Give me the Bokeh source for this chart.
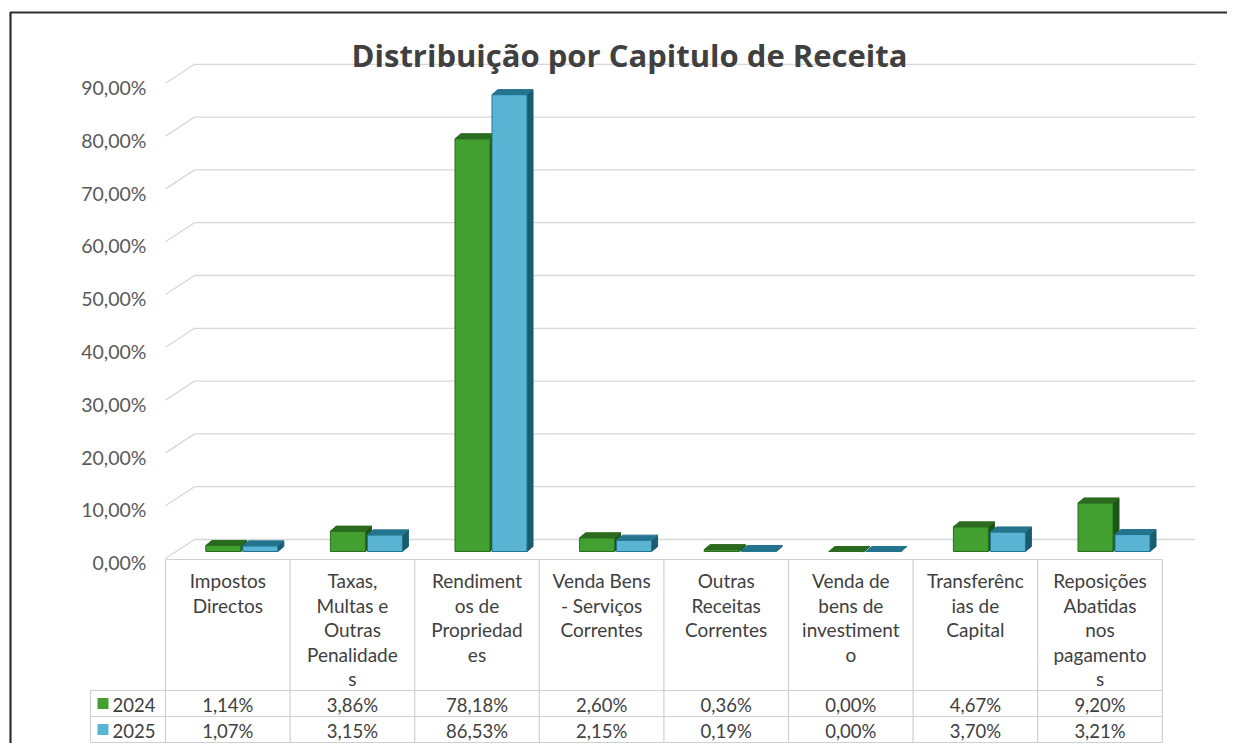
from bokeh.plotting import figure
from bokeh.models import Range1d, ColumnDataSource
from bokeh.embed import file_html
from bokeh.resources import INLINE
from bokeh.core.properties import value

# ---------------- data ----------------
title = "Distribuição por Capitulo de Receita"
categories = [
    "Impostos\nDirectos",
    "Taxas,\nMultas e\nOutras\nPenalidade\ns",
    "Rendiment\nos de\nPropriedad\nes",
    "Venda Bens\n- Serviços\nCorrentes",
    "Outras\nReceitas\nCorrentes",
    "Venda de\nbens de\ninvestiment\no",
    "Transferênc\nias de\nCapital",
    "Reposições\nAbatidas\nnos\npagamento\ns",
]
series_names = ["2024", "2025"]
values_2024 = [1.14, 3.86, 78.18, 2.60, 0.36, 0.00, 4.67, 9.20]
values_2025 = [1.07, 3.15, 86.53, 2.15, 0.19, 0.00, 3.70, 3.21]
y_ticks = [0, 10, 20, 30, 40, 50, 60, 70, 80, 90]
y_tick_labels = ["0,00%", "10,00%", "20,00%", "30,00%", "40,00%",
                 "50,00%", "60,00%", "70,00%", "80,00%", "90,00%"]

# ---------------- layout helpers (page pixels -> data units) ----------------
W, H = 1227, 743
COL0, COLW = 165.0, 124.6     # left edge of first column and column width (px)
Y0, PXU = 558.0, 5.28         # front floor line and px per percent


def px(X):
    return (X - COL0) / COLW


def py(Y):
    return (Y0 - Y) / PXU


FONT = "Lato"
TXT = "#404040"
GRID = "#d6d8dc"
TBL = "#cfd0d2"

p = figure(width=W, height=H, x_range=Range1d(px(0), px(W)),
           y_range=Range1d(py(H), py(0)), output_backend="svg",
           toolbar_location=None, min_border=0, title=None,
           x_axis_location=None, y_axis_location=None)
p.grid.visible = False
p.outline_line_color = None
p.background_fill_color = "white"
p.border_fill_color = "white"

n = len(categories)

# 3D wall offsets
back_dx, back_dy = 29 / COLW, 19 / PXU
bar_dx, bar_dy = 13 / COLW, 7.0 / PXU
depth_dx, depth_dy = 6 / COLW, 5 / PXU
bar_w = 35 / COLW
gap = 2 / COLW

# gridlines (left wall diagonal + back wall)
gx, gy = [], []
for t in y_ticks:
    gx.append([0, back_dx, n + back_dx + 4 / COLW])
    gy.append([t, t + back_dy, t + back_dy])
p.multi_line(gx, gy, line_color=GRID, line_width=1.3)

# y tick labels
p.text(x=[px(146)] * len(y_ticks), y=[t - 0.8 for t in y_ticks], text=y_tick_labels,
       text_align="right", text_baseline="middle", text_font=value(FONT),
       text_font_size="19.5px", text_color="#595959")

# bars
styles = [
    dict(front="#41a030", top="#2a6b1f", side="#1f5418"),
    dict(front="#5ab5d5", top="#23748e", side="#195b70"),
]
for s, vals in enumerate([values_2024, values_2025]):
    st = styles[s]
    left = [i + 0.5 + bar_dx - bar_w + s * (bar_w + gap) for i in range(n)]
    right = [l + bar_w for l in left]
    bottom = [bar_dy] * n
    top = [bar_dy + v for v in vals]
    src = ColumnDataSource(dict(left=left, right=right, bottom=bottom, top=top))
    sx, sy, tx, ty = [], [], [], []
    for l, r, b, t in zip(left, right, bottom, top):
        sx.append([r, r + depth_dx, r + depth_dx, r])
        sy.append([b, b + depth_dy, t + depth_dy, t])
        tx.append([l, r, r + depth_dx, l + depth_dx])
        ty.append([t, t, t + depth_dy, t + depth_dy])
    p.patches(sx, sy, fill_color=st["side"], line_color=st["side"], line_width=1)
    p.quad(left="left", right="right", bottom="bottom", top="top", source=src,
           fill_color=st["front"], line_color=st["top"], line_width=1)
    p.patches(tx, ty, fill_color=st["top"], line_color=st["top"], line_width=1)

# ---------------- data table ----------------
y_head_top = py(559)
y_r1 = py(690)
y_r2 = py(716)
y_r3 = py(742)
x_leg = px(90)

hx = [[0, n], [x_leg, n], [x_leg, n], [x_leg, n]]
hy = [[y_head_top] * 2, [y_r1] * 2, [y_r2] * 2, [y_r3] * 2]
for i in range(n + 1):
    hx.append([i, i])
    hy.append([y_head_top, y_r3])
hx.append([x_leg, x_leg])
hy.append([y_r1, y_r3])
p.multi_line(hx, hy, line_color=TBL, line_width=1.2)

# header text
lx, ly, lt = [], [], []
for i, c in enumerate(categories):
    for k, line in enumerate(c.split("\n")):
        lx.append(i + 0.5)
        ly.append(py(580 + 24.5 * k))
        lt.append(line)
p.text(x=lx, y=ly, text=lt, text_align="center", text_baseline="middle",
       text_font=value(FONT), text_font_size="19px", text_color=TXT)

# values
row_centers = [py(704), py(730)]
for s, vals in enumerate([values_2024, values_2025]):
    labels = [f"{v:.2f}".replace(".", ",") + "%" for v in vals]
    p.text(x=[i + 0.5 for i in range(n)], y=[row_centers[s]] * n, text=labels,
           text_align="center", text_baseline="middle", text_font=value(FONT),
           text_font_size="18.5px", text_color=TXT)

# legend keys + series names
p.scatter(x=[px(102.5)] * 2, y=[py(703), py(729)], marker="square", size=11,
          fill_color=[styles[0]["front"], styles[1]["front"]], line_color=None)
p.text(x=[px(112)] * 2, y=row_centers, text=series_names, text_align="left",
       text_baseline="middle", text_font=value(FONT), text_font_size="18.5px",
       text_color=TXT)

# title
p.text(x=[px(629)], y=[py(54)], text=[title], text_align="center",
       text_baseline="middle", text_font=value("Open Sans"), text_font_size="31px",
       text_font_style="bold", text_color=TXT)

# chart frame (top + left edges visible in the reference)
p.line(x=[px(10), px(10), px(W)], y=[py(H + 5), py(12), py(12)],
       line_color="#2e2e2e", line_width=2.2)

open("out.html", "w").write(file_html(p, INLINE))
